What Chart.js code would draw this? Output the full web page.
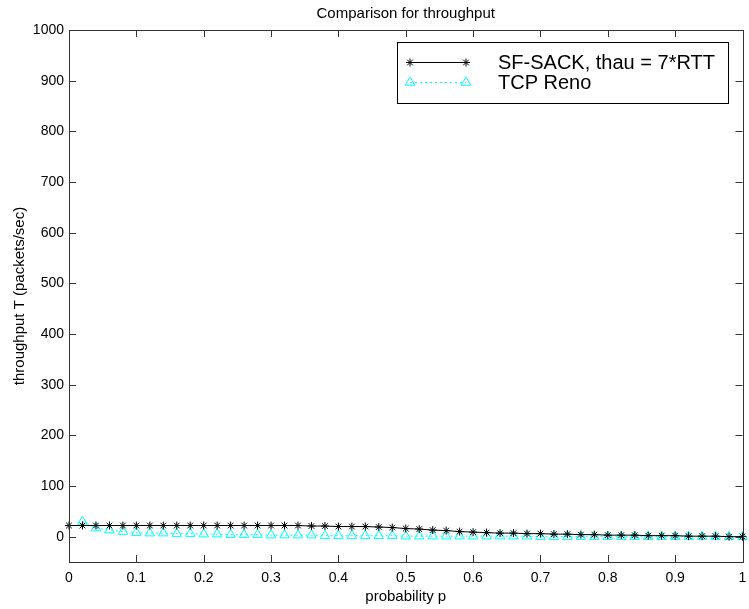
<!DOCTYPE html>
<html><head><meta charset="utf-8">
<script src="https://cdn.jsdelivr.net/npm/chart.js@4.4.1/dist/chart.umd.min.js"></script>
<style>html,body{margin:0;padding:0;background:#fff}#wrap{width:749px;height:609px}</style>
</head><body><div id="wrap"><canvas id="c" width="749" height="609"></canvas></div>
<script>
const probability = [0,0.02,0.04,0.06,0.08,0.10,0.12,0.14,0.16,0.18,0.20,0.22,0.24,0.26,0.28,0.30,0.32,0.34,0.36,0.38,0.40,0.42,0.44,0.46,0.48,0.50,0.52,0.54,0.56,0.58,0.60,0.62,0.64,0.66,0.68,0.70,0.72,0.74,0.76,0.78,0.80,0.82,0.84,0.86,0.88,0.90,0.92,0.94,0.96,0.98,1.00];
const sfSack = [22,22,22,22,22,22,22,22,22,22,22,22,22,22,22,22,22,22,21,21,20,20,20,19,18,16,15,13,12,10,9,8,7,7,6,6,5,5,4,4,3,3,3,2,2,2,1,1,1,0,0];
const tcpReno = [null,30,17,13,10,8,7,7,6,6,5,5,4,4,4,3,3,3,3,2,2,2,2,2,2,1,1,1,1,1,1,1,1,1,1,0,0,0,0,0,0,0,0,0,0,0,0,0,0,0,0];
const xTicks = [0,0.1,0.2,0.3,0.4,0.5,0.6,0.7,0.8,0.9,1];
const xTickLabels = ['0','0.1','0.2','0.3','0.4','0.5','0.6','0.7','0.8','0.9','1'];
const yTicks = [0,100,200,300,400,500,600,700,800,900,1000];
const yTickLabels = ['0','100','200','300','400','500','600','700','800','900','1000'];
const seriesNames = ['SF-SACK, thau = 7*RTT','TCP Reno'];
const titleText = 'Comparison for throughput';
const xTitle = 'probability p';
const yTitle = 'throughput T (packets/sec)';

const FONT = '"Liberation Sans", Arial, Helvetica, sans-serif';
const SF_COLOR = '#000000';
const RENO_COLOR = '#00ffff';
const AXIS_COLOR = '#333333';

const decor = {
  id: 'decor',
  afterDraw(chart) {
    const {ctx, chartArea: a, scales: {x, y}} = chart;
    ctx.save();
    ctx.strokeStyle = AXIS_COLOR;
    ctx.lineWidth = 1;
    ctx.strokeRect(Math.round(a.left) + 0.5, Math.round(a.top) + 0.5, Math.round(a.right - a.left), Math.round(a.bottom - a.top));
    const TL = 7;
    ctx.beginPath();
    xTicks.forEach(v => {
      const px = Math.round(x.getPixelForValue(v)) + 0.5;
      ctx.moveTo(px, a.bottom); ctx.lineTo(px, a.bottom - TL);
      ctx.moveTo(px, a.top); ctx.lineTo(px, a.top + TL);
    });
    yTicks.forEach(v => {
      const py = Math.round(y.getPixelForValue(v)) + 0.5;
      ctx.moveTo(a.left, py); ctx.lineTo(a.left + TL, py);
      ctx.moveTo(a.right, py); ctx.lineTo(a.right - TL, py);
    });
    ctx.stroke();
    ctx.fillStyle = '#000';
    ctx.font = '15px ' + FONT;
    ctx.textAlign = 'center';
    ctx.textBaseline = 'middle';
    ctx.fillText(titleText, (a.left + a.right) / 2, 14);
    const bx = 397.5, by = 42.5, bw = 331, bh = 61;
    ctx.fillStyle = '#fff';
    ctx.fillRect(bx, by, bw, bh);
    ctx.strokeStyle = '#000';
    ctx.strokeRect(bx, by, bw, bh);
    const rows = [
      {y: 62.5, color: SF_COLOR, dash: [], style: 'star', r: 4},
      {y: 82.5, color: RENO_COLOR, dash: [2, 3], style: 'triangle', r: 5.5}
    ];
    rows.forEach((row, i) => {
      ctx.strokeStyle = row.color;
      ctx.lineWidth = 1;
      ctx.setLineDash(row.dash);
      ctx.beginPath(); ctx.moveTo(410, row.y); ctx.lineTo(466, row.y); ctx.stroke();
      ctx.setLineDash([]);
      ctx.fillStyle = 'rgba(0,0,0,0)';
      [410, 466].forEach(px => {
        Chart.helpers.drawPoint(ctx, {pointStyle: row.style, radius: row.r, rotation: 0, borderWidth: 1}, px, row.y);
      });
      ctx.fillStyle = '#000';
      ctx.font = '20px ' + FONT;
      ctx.textAlign = 'left';
      ctx.textBaseline = 'middle';
      ctx.fillText(seriesNames[i], 498, row.y + 1);
    });
    ctx.restore();
  }
};

new Chart(document.getElementById('c'), {
  type: 'line',
  data: {
    datasets: [
      {
        label: seriesNames[0],
        data: probability.map((p, i) => ({x: p, y: sfSack[i]})),
        borderColor: SF_COLOR, backgroundColor: 'rgba(0,0,0,0)',
        borderWidth: 1, pointStyle: 'star', pointRadius: 4, pointBorderWidth: 1,
        pointBorderColor: SF_COLOR, tension: 0, clip: false
      },
      {
        label: seriesNames[1],
        data: probability.map((p, i) => ({x: p, y: tcpReno[i]})),
        borderColor: RENO_COLOR, backgroundColor: 'rgba(0,0,0,0)',
        borderWidth: 1, borderDash: [2, 3], pointStyle: 'triangle', pointRadius: 5.5,
        pointBorderWidth: 1, pointBorderColor: RENO_COLOR, pointBackgroundColor: 'rgba(0,0,0,0)',
        tension: 0, clip: false, spanGaps: false
      }
    ]
  },
  options: {
    responsive: false, animation: false, devicePixelRatio: 1,
    layout: {padding: {top: 30, right: 5, left: 0, bottom: 0}},
    plugins: {legend: {display: false}, title: {display: false}, tooltip: {enabled: false}},
    scales: {
      x: {
        type: 'linear', min: 0, max: 1,
        afterBuildTicks: s => { s.ticks = xTicks.map(v => ({value: v})); },
        afterFit: s => { s.paddingLeft = 0; s.paddingRight = 0; s.height = 47; },
        ticks: {callback: (v, i) => xTickLabels[i], font: {size: 14, family: FONT}, color: '#000', padding: 8, maxRotation: 0, autoSkip: false},
        grid: {display: false, drawTicks: false},
        border: {display: false},
        title: {display: true, text: xTitle, font: {size: 15, family: FONT}, color: '#000', padding: {top: 1, bottom: 3}}
      },
      y: {
        type: 'linear', min: -50, max: 1000,
        afterBuildTicks: s => { s.ticks = yTicks.map(v => ({value: v})); },
        afterFit: s => { s.width = 69; s.paddingTop = 0; s.paddingBottom = 0; },
        ticks: {callback: (v, i) => yTickLabels[i], font: {size: 14, family: FONT}, color: '#000', padding: 5, autoSkip: false},
        grid: {display: false, drawTicks: false},
        border: {display: false},
        title: {display: true, text: yTitle, font: {size: 15, family: FONT}, color: '#000', padding: {top: 11, bottom: 0}}
      }
    }
  },
  plugins: [decor]
});
</script>
</body></html>
